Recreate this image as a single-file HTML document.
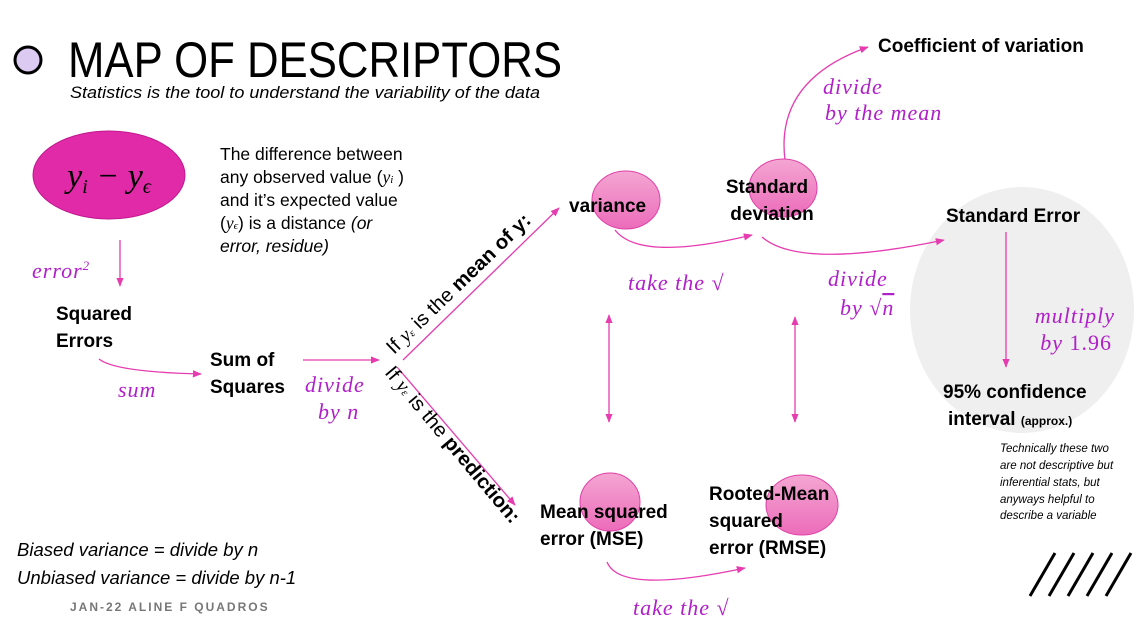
<!DOCTYPE html>
<html><head><meta charset="utf-8"><style>
html,body{margin:0;padding:0;background:#fff;}
svg{display:block;}
.s{font-family:"Liberation Sans",sans-serif;}
.b{font-family:"Liberation Sans",sans-serif;font-weight:bold;font-size:19px;fill:#000;}
.p{font-family:"Liberation Serif",serif;font-style:italic;font-size:22px;fill:#b020c8;letter-spacing:1px;}
</style></head><body>
<svg width="1138" height="629" viewBox="0 0 1138 629" xmlns="http://www.w3.org/2000/svg">
<defs>
<marker id="a" viewBox="0 0 10 10" refX="9" refY="5" markerWidth="7" markerHeight="7" orient="auto-start-reverse"><path d="M0,1 L10,5 L0,9 z" fill="#e63cb0"/></marker>
<linearGradient id="g" x1="0" y1="0" x2="0" y2="1"><stop offset="0" stop-color="#f4a6d2"/><stop offset="1" stop-color="#ec6cba"/></linearGradient>
</defs>
<ellipse cx="1022" cy="310" rx="112" ry="123" fill="#efefef"/>
<circle cx="28" cy="60" r="13" fill="#dccaf2" stroke="#000" stroke-width="3"/>
<text x="68" y="77" class="s" font-size="50" fill="#000" textLength="494" lengthAdjust="spacingAndGlyphs">MAP OF DESCRIPTORS</text>
<text x="70" y="98" class="s" font-size="17" font-style="italic" fill="#000" textLength="470" lengthAdjust="spacingAndGlyphs">Statistics is the tool to understand the variability of the data</text>
<ellipse cx="109" cy="175" rx="76" ry="44" fill="#e02aa8" stroke="#c01890"/>
<text x="109" y="187" text-anchor="middle" font-family="Liberation Serif,serif" font-style="italic" font-size="34">y<tspan font-size="20" dy="6">i</tspan><tspan dy="-6"> − y</tspan><tspan font-size="20" dy="6">ϵ</tspan></text>
<g class="s" font-size="17.5" fill="#000">
<text x="220" y="160">The difference between</text>
<text x="220" y="183">any observed value (<tspan font-family="Liberation Serif" font-style="italic">y<tspan font-size="11">i</tspan></tspan> )</text>
<text x="220" y="206">and it’s expected value</text>
<text x="220" y="229">(<tspan font-family="Liberation Serif" font-style="italic">y<tspan font-size="11">ϵ</tspan></tspan>) is a distance <tspan font-style="italic">(or</tspan></text>
<text x="220" y="252" font-style="italic">error, residue)</text>
</g>
<g stroke="#e63cb0" stroke-width="1.3" fill="none" marker-end="url(#a)">
<line x1="120" y1="240" x2="120" y2="286"/>
<path d="M99,359 Q115,372 201,374"/>
<line x1="303" y1="360" x2="379" y2="360"/>
<line x1="403" y1="360" x2="559" y2="208"/>
<line x1="397" y1="367" x2="515" y2="505"/>
<path d="M615,230 Q640,262 752,235"/>
<path d="M785,160 Q775,80 868,47"/>
<path d="M762,237 Q800,270 944,240"/>
<line x1="1006" y1="232" x2="1006" y2="367"/>
<line x1="609" y1="315" x2="609" y2="422" marker-start="url(#a)"/>
<line x1="795" y1="317" x2="795" y2="422" marker-start="url(#a)"/>
<path d="M607,562 Q620,595 745,568"/>
</g>
<text x="32" y="278" class="p">error<tspan font-size="13" dy="-8">2</tspan></text>
<text x="56" y="320" class="b">Squared</text><text x="56" y="347" class="b">Errors</text>
<text x="118" y="397" class="p">sum</text>
<text x="210" y="366" class="b">Sum of</text><text x="210" y="393" class="b">Squares</text>
<text x="305" y="392" class="p">divide</text><text x="318" y="419" class="p">by  n</text>
<text transform="translate(394,355) rotate(-44)" class="s" font-size="20" fill="#000" textLength="192" lengthAdjust="spacingAndGlyphs">If <tspan font-family="Liberation Serif" font-style="italic">y<tspan font-size="11">ε</tspan></tspan> is the <tspan font-weight="bold">mean of y:</tspan></text>
<text transform="translate(384,373) rotate(50)" class="s" font-size="20" fill="#000" textLength="198" lengthAdjust="spacingAndGlyphs">If <tspan font-family="Liberation Serif" font-style="italic">y<tspan font-size="11">ε</tspan></tspan> is the <tspan font-weight="bold">prediction:</tspan></text>
<g fill="url(#g)" stroke="#e040a8" stroke-width="1">
<ellipse cx="626" cy="200" rx="34" ry="29"/>
<ellipse cx="783" cy="188" rx="34" ry="29"/>
<ellipse cx="610" cy="502" rx="30" ry="29"/>
<ellipse cx="802" cy="505" rx="36" ry="30"/>
</g>
<text x="569" y="212" class="b">variance</text>
<text x="767" y="193" class="b" text-anchor="middle">Standard</text>
<text x="772" y="220" class="b" text-anchor="middle">deviation</text>
<text x="628" y="290" class="p">take the √</text>
<text x="878" y="52" class="b">Coefficient of variation</text>
<text x="823" y="94" class="p">divide</text><text x="825" y="120" class="p">by the mean</text>
<text x="946" y="222" class="b">Standard Error</text>
<text x="828" y="286" class="p">divide</text><text x="840" y="315" class="p">by √<tspan text-decoration="overline">n</tspan></text>
<text x="1115" y="323" class="p" text-anchor="end">multiply</text>
<text x="1112" y="350" class="p" text-anchor="end">by <tspan font-style="normal">1.96</tspan></text>
<text x="943" y="398" class="b">95% confidence</text>
<text x="948" y="425" class="b">interval <tspan font-size="12">(approx.)</tspan></text>
<g class="s" font-size="11.5" font-style="italic" fill="#000">
<text x="1000" y="452">Technically these two</text>
<text x="1000" y="469">are not descriptive but</text>
<text x="1000" y="486">inferential stats, but</text>
<text x="1000" y="503">anyways helpful to</text>
<text x="1000" y="519">describe a variable</text>
</g>
<text x="540" y="518" class="b">Mean squared</text><text x="540" y="545" class="b">error (MSE)</text>
<text x="709" y="500" class="b">Rooted-Mean</text><text x="709" y="527" class="b">squared</text><text x="709" y="554" class="b">error (RMSE)</text>
<text x="633" y="615" class="p">take the √</text>
<text x="17" y="556" class="s" font-size="18.5" font-style="italic" fill="#000">Biased variance = divide by n</text>
<text x="17" y="584" class="s" font-size="18.5" font-style="italic" fill="#000">Unbiased variance = divide by n-1</text>
<text x="70" y="611" class="s" font-size="12" font-weight="bold" fill="#777" letter-spacing="2">JAN-22 ALINE F QUADROS</text>
<g stroke="#000" stroke-width="3">
<line x1="1030" y1="596" x2="1055" y2="553"/>
<line x1="1049" y1="596" x2="1074" y2="553"/>
<line x1="1068" y1="596" x2="1093" y2="553"/>
<line x1="1087" y1="596" x2="1112" y2="553"/>
<line x1="1106" y1="596" x2="1131" y2="553"/>
</g>
</svg>
</body></html>
